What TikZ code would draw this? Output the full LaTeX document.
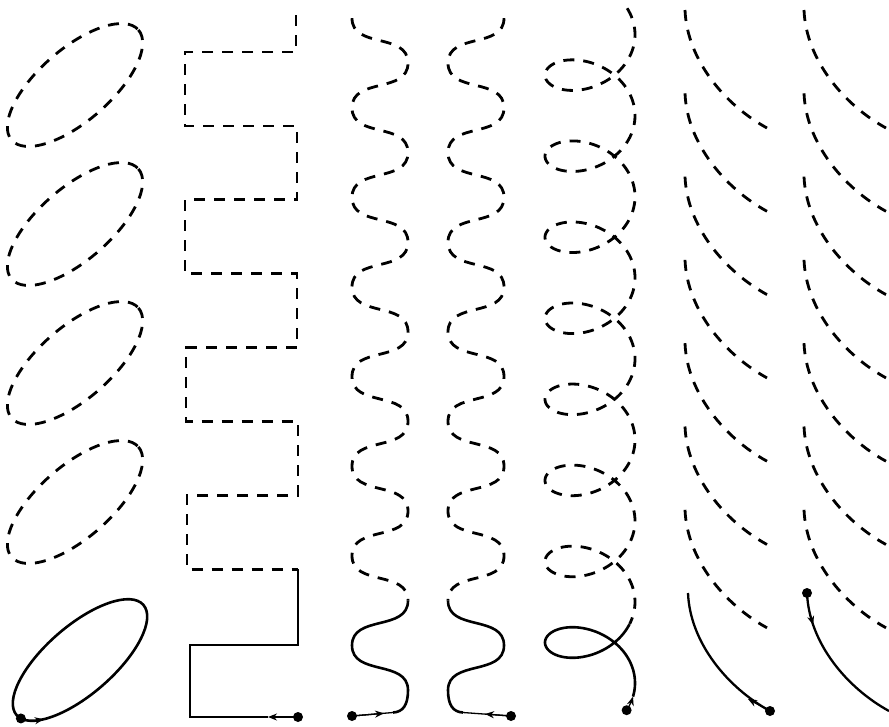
\documentclass[tikz,border=0pt]{standalone}
\usetikzlibrary{arrows.meta}
\begin{document}
\begin{tikzpicture}[x=1pt,y=-1pt,
  dsh/.style={line width=2.8pt, dash pattern=on 11pt off 9pt},
  sld/.style={line width=2.6pt},
  thn/.style={line width=1.3pt},
  arr/.style={thn, -{Stealth[length=9pt,width=7pt]}},
  wv/.style={out=-90,in=90,looseness=1.1},
  dotst/.style={fill=black}]
\useasboundingbox (0,0) rectangle (889,726);
\fill[white] (0,0) rectangle (889,726);

% ---------- column 1: ellipses ----------
\foreach \cy in {85,224,363,502} {
  \begin{scope}[shift={(75,\cy)}, rotate=41]
    \draw[dsh] (0,0) ellipse [x radius=84, y radius=36];
  \end{scope}
}
\begin{scope}[shift={(80,660)}, rotate=41]
  \draw[sld] (0,0) ellipse [x radius=84, y radius=34];
  \coordinate (d1) at (171:84 and 34);
  \coordinate (a1s) at (151:84 and 34);
  \coordinate (a1e) at (142:84 and 34);
\end{scope}
\fill[dotst] (d1) circle [radius=5];
\draw[arr] (a1s) -- (a1e);

% ---------- column 2: square wave ----------
\draw[dsh] (296,15) -- (296,52) -- (185,52) -- (185,125.9) -- (297,125.9)
  -- (297,199.8) -- (185,199.8) -- (185,273.7) -- (297,273.7) -- (297,347.6)
  -- (186,347.6) -- (186,421.5) -- (298,421.5) -- (298,495.4) -- (187,495.4)
  -- (187,569.3) -- (298,569.3);
\coordinate (d2) at (298,717);
\coordinate (a2) at (268,717);
\draw[sld] (298,569.3) -- (298,645) -- (190,645) -- (190,717) -- (a2);
\fill[dotst] (d2) circle [radius=5];
\draw[arr] (d2) -- (a2);

% ---------- column 3: wave ----------
\draw[dsh] (352,18.2) to[wv] (408,63) to[wv] (352,107.8) to[wv] (408,152.6)
  to[wv] (352,197.4) to[wv] (408,242.2) to[wv] (352,287) to[wv] (408,331.8)
  to[wv] (352,376.6) to[wv] (408,421.4) to[wv] (352,466.2) to[wv] (408,511)
  to[wv] (352,555.8) to[wv] (408,600.6);
\coordinate (c3) at (393,712.5);
\coordinate (d3) at (352,716);
\coordinate (a3) at (384,713.3);
\draw[sld] (408,600.6) to[wv] (352,645.4) to[wv] (408,690.2)
  .. controls (408,705) and (403,712) .. (c3);
\draw[thn] (d3) -- (c3);
\fill[dotst] (d3) circle [radius=5];
\draw[arr] (d3) -- (a3);

% ---------- column 4: mirrored wave ----------
\draw[dsh] (504,18.2) to[wv] (448,63) to[wv] (504,107.8) to[wv] (448,152.6)
  to[wv] (504,197.4) to[wv] (448,242.2) to[wv] (504,287) to[wv] (448,331.8)
  to[wv] (504,376.6) to[wv] (448,421.4) to[wv] (504,466.2) to[wv] (448,511)
  to[wv] (504,555.8) to[wv] (448,600.6);
\coordinate (c4) at (463,712.5);
\coordinate (d4) at (511,716);
\coordinate (a4) at (485,714);
\draw[sld] (448,600.6) to[wv] (504,645.4) to[wv] (448,690.2)
  .. controls (448,705) and (453,712) .. (c4);
\draw[thn] (d4) -- (c4);
\fill[dotst] (d4) circle [radius=5];
\draw[arr] (d4) -- (a4);

% ---------- column 5: looped trochoid ----------
\draw[dsh] plot[domain=-0.6:44.48, samples=700]
  ({590+45*cos(\x r)}, {34.6+12.9*\x+33*sin(\x r)});
\draw[sld] plot[domain=44.48:50.5655, samples=120]
  ({590+45*cos(\x r)}, {34.6+12.9*\x+33*sin(\x r)});
\draw[thn, {Stealth[length=9pt,width=7pt]}-] plot[domain=50.5655:50.8855, samples=12]
  ({590+45*cos(\x r)}, {34.6+12.9*\x+33*sin(\x r)});
\coordinate (d5) at ({590+45*cos(0.62 r)}, {34.6+12.9*50.8855+33*sin(0.62 r)});
\fill[dotst] (d5) circle [radius=5];

% ---------- column 6: arcs ----------
\foreach \yy in {10,93.3,176.6,259.9,343.2,426.5,509.8} {
  \draw[dsh] (685,\yy) .. controls +(2,50) and +(-42,-23) .. +(82,118);
}
\coordinate (s6) at (688,593);
\coordinate (d6) at (770,711);
\coordinate (a6) at (748,699);
\draw[sld, line width=2.3pt] (s6) .. controls +(2,50) and +(-42,-23) .. (d6);
\fill[dotst] (d6) circle [radius=5];
\draw[arr] (d6) -- (a6);

% ---------- column 7: arcs ----------
\foreach \yy in {10,93.3,176.6,259.9,343.2,426.5,509.8} {
  \draw[dsh] (804,\yy) .. controls +(2,50) and +(-42,-23) .. +(82,118);
}
\coordinate (d7) at (807,593);
\coordinate (e7) at (889,711);
\coordinate (a7s) at (810.2,615);
\coordinate (a7e) at (813.2,625);
\draw[sld, line width=2.3pt] (d7) .. controls +(2,50) and +(-42,-23) .. (e7);
\fill[dotst] (d7) circle [radius=5];
\draw[arr] (a7s) -- (a7e);
\end{tikzpicture}
\end{document}
